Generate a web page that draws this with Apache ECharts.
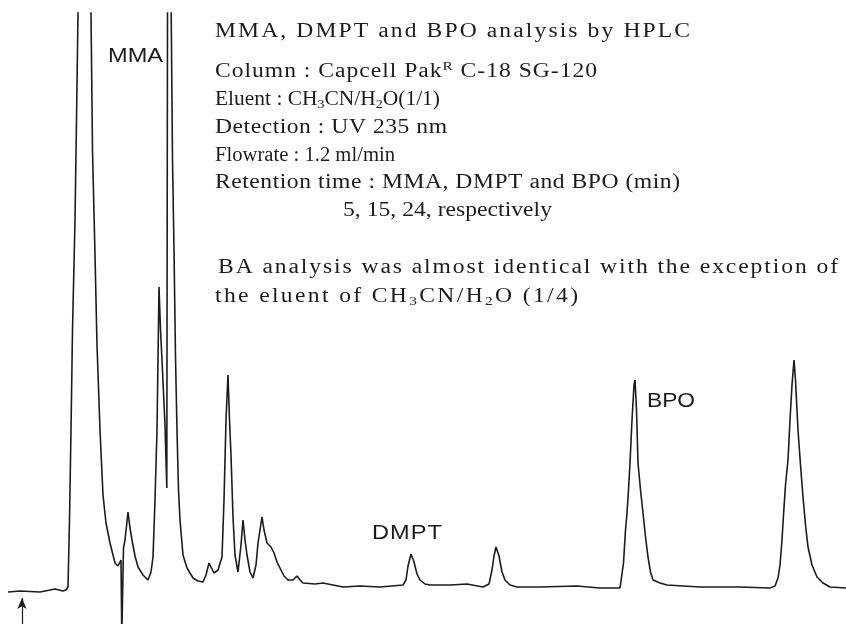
<!DOCTYPE html>
<html>
<head>
<meta charset="utf-8">
<script src="https://cdn.jsdelivr.net/npm/echarts@6/dist/echarts.min.js"></script>
<style>
  html, body { margin: 0; padding: 0; background: #fff; }
  #chart { width: 846px; height: 624px; }
</style>
</head>
<body>
<div id="chart"></div>
<script>
// HPLC trace (x: chart time units, y: detector signal, baseline ~ 0)
const traceX = [
  8, 20, 40, 55, 63, 66, 68, 69.5, 71, 72.5, 75, 76.5, 78, 79, 84.5, 90, 91, 92.5, 95, 97,
  100, 103, 106, 110, 115, 118, 120, 121, 121.8, 123.5, 125, 128, 130, 132, 135, 138, 143, 148, 151, 153,
  155, 157, 159, 160.5, 162, 165, 166.8, 167.5, 168, 169.5, 170.8, 171.2, 172.5, 174, 175.5, 177, 178.5, 180, 183, 187,
  193, 198, 203, 206, 209, 211, 214, 218, 222, 224, 226, 228, 229.5, 231, 233, 235, 238, 241, 243, 245,
  247, 250, 253, 256, 258, 262, 264, 267, 271, 274, 277, 280, 284, 288, 293, 297, 300, 303, 315, 323,
  343, 360, 380, 403, 406, 408, 411, 414, 417, 420, 425, 430, 450, 467, 483, 489, 492, 494, 496, 499,
  502, 505, 510, 517, 540, 577, 600, 620, 622, 623.5, 625.5, 627, 628.5, 630, 632, 634, 635, 636.5, 638, 640.5,
  643, 645.5, 648, 650.5, 653, 660, 667, 700, 740, 770, 775, 778, 780, 782, 783.5, 785.5, 788, 790, 792, 794,
  795.5, 798, 800.5, 803, 805.5, 808, 812, 817, 823, 830, 846
];
const traceY = [
  -2, -1, -2, 1, -1, 0, 3, 70, 160, 260, 370, 470, 576, 610, 700, 610, 576, 440, 335, 245,
  160, 95, 67, 47, 27, 24, 25, 30, -45, 42, 50, 78, 62, 50, 34, 23, 15, 10, 18, 33,
  90, 160, 303, 260, 230, 165, 102, 577, 610, 700, 610, 577, 430, 340, 233, 160, 100, 70, 35, 22,
  12, 9, 8, 15, 27, 23, 17, 20, 33, 90, 170, 215, 170, 135, 73, 35, 18, 45, 70, 50,
  35, 18, 12, 25, 47, 73, 60, 47, 43, 37, 28, 22, 14, 10, 10, 14, 10, 7, 6, 7,
  3, 4, 3, 5, 10, 24, 36, 28, 16, 10, 6, 5, 5, 6, 3, 6, 20, 34, 43, 34,
  18, 10, 5, 3, 3, 4, 2, 2, 4, 27, 60, 77, 100, 127, 170, 205, 210, 180, 127, 100,
  77, 53, 33, 18, 10, 7, 5, 3, 3, 2, 4, 12, 25, 50, 75, 105, 130, 170, 205, 230,
  210, 160, 125, 93, 65, 43, 25, 13, 7, 3, 2
];

// injection mark on the time axis
const injectAt = 22;

// peak names and where they sit (x, signal)
const peakNames = ['MMA', 'DMPT', 'BPO'];
const peakLabelX = [108, 372, 647];
const peakLabelY = [534, 57, 189];
const peakLabelW = [55, 70, 48];

// text block; _n = subscript, ^n = superscript
const infoLines = [
  'MMA, DMPT and BPO analysis by HPLC',
  'Column : Capcell Pak^R C-18 SG-120',
  'Eluent : CH_3CN/H_2O(1/1)',
  'Detection : UV 235 nm',
  'Flowrate : 1.2 ml/min',
  'Retention time : MMA, DMPT and BPO (min)',
  '5, 15, 24, respectively',
  'BA analysis was almost identical with the exception of',
  'the eluent of CH_3CN/H_2O (1/4)'
];
const infoX = [215, 215, 215, 215, 215, 215, 343, 218, 215];
const infoRight = [690, 597, 440, 447, 395, 680, 552, 838, 578];
const infoY = [32, 72, 100, 128, 156, 183, 211, 268, 297];

const SERIF = '"Liberation Serif", "DejaVu Serif", serif';
const SANS = '"Liberation Sans", "DejaVu Sans", sans-serif';
const FS = 20, FS_SMALL = 13, FS_LABEL = 20;
const INK = '#1c1c1c';

const ctx = document.createElement('canvas').getContext('2d');

function parseLine(str) {
  const segs = [];
  let buf = '';
  for (let i = 0; i < str.length; i++) {
    const c = str[i];
    if ((c === '_' || c === '^') && i + 1 < str.length) {
      if (buf) segs.push({ t: buf, k: 'n' });
      buf = '';
      segs.push({ t: str[i + 1], k: c === '_' ? 'sub' : 'sup' });
      i++;
    } else {
      buf += c;
    }
  }
  if (buf) segs.push({ t: buf, k: 'n' });
  return segs;
}

// typewriter look: glyphs widened a little, the rest made up with letter spacing
// (one rich token per character, padded on the right)
function spacedText(segs, family, size, smallSize, width, x, y) {
  let natural = 0, count = 0;
  segs.forEach(s => {
    ctx.font = (s.k === 'n' ? size : smallSize) + 'px ' + family;
    natural += ctx.measureText(s.t).width;
    count += s.t.length;
  });
  const g = Math.min(1.18, Math.max(0.9, width / natural));
  const sp = Math.max(0, (width / g - natural) / Math.max(1, count - 1));
  const text = segs.map(s => s.t.split('').map(ch => `{${s.k}|${ch}}`).join('')).join('');
  return {
    type: 'text',
    x, y,
    scaleX: g,
    scaleY: 1,
    style: {
      text,
      verticalAlign: 'middle',
      rich: {
        n: { fontFamily: family, fontSize: size, fill: INK, padding: [0, sp, 0, 0] },
        sub: { fontFamily: family, fontSize: smallSize, fill: INK, padding: [9, sp, 0, 0] },
        sup: { fontFamily: family, fontSize: smallSize, fill: INK, padding: [0, sp, 11, 0] }
      }
    },
    z: 10
  };
}

const infoGraphics = infoLines.map((line, i) =>
  spacedText(parseLine(line), SERIF, FS, FS_SMALL, infoRight[i] - infoX[i], infoX[i], infoY[i])
);

const chart = echarts.init(document.getElementById('chart'));

chart.setOption({
  animation: false,
  backgroundColor: '#fff',
  grid: { left: 0, right: 0, top: 13, bottom: 0 },
  xAxis: { type: 'value', min: 0, max: 846, show: false },
  yAxis: { type: 'value', min: -34, max: 577, show: false },
  series: [{
    type: 'line',
    data: traceX.map((x, i) => [x, traceY[i]]),
    showSymbol: false,
    clip: true,
    lineStyle: { color: INK, width: 1.6 },
    markLine: {
      silent: true,
      symbol: ['none', 'arrow'],
      symbolSize: [7, 11],
      label: { show: false },
      lineStyle: { color: INK, width: 1.2, type: 'solid' },
      data: [[{ coord: [injectAt, -34] }, { coord: [injectAt, -8] }]]
    }
  }]
});

const peakGraphics = peakNames.map((name, i) => {
  const p = chart.convertToPixel({ gridIndex: 0 }, [peakLabelX[i], peakLabelY[i]]);
  return spacedText([{ t: name, k: 'n' }], SANS, FS_LABEL, FS_LABEL, peakLabelW[i], p[0], p[1]);
});

chart.setOption({ graphic: infoGraphics.concat(peakGraphics) });
</script>
</body>
</html>
